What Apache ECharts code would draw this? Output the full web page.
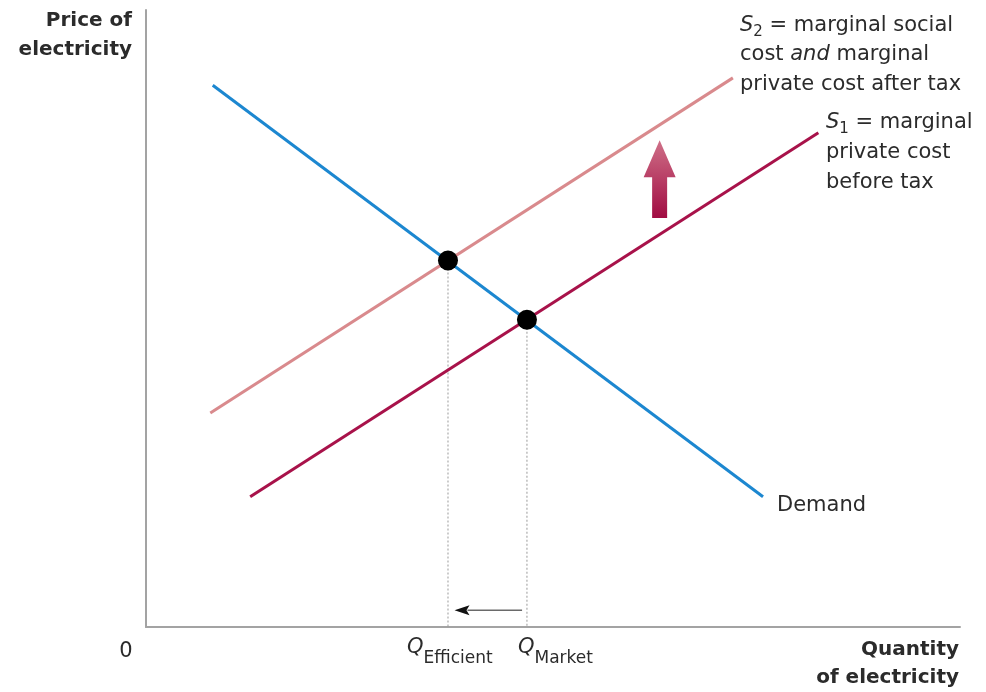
<!DOCTYPE html>
<html>
<head>
<meta charset="utf-8">
<script src="https://cdn.jsdelivr.net/npm/echarts@6/dist/echarts.min.js"></script>
<style>
	html, body { margin: 0; padding: 0; background: #fff; }
	#chart { width: 986px; height: 692px; }
</style>
</head>
<body>
<div id="chart"></div>
<script>
// 曲线端点 (x = quantity, y = price, both 0..100)
const demand = [[8.2, 87.8], [75.8, 21.1]]
const supply1 = [[12.8, 21.1], [82.6, 80.1]]
const supply2 = [[7.9, 34.7], [72.1, 89.0]]
// equilibria: efficient (S2 x D), market (S1 x D)
const equilibria = [[37.1, 59.4], [46.8, 49.8]]
// tax shift arrow: x, yFrom, yTo
const taxArrow = [[63.1, 66.3, 78.9]]
// quantity change arrow: xFrom, xTo, y
const qArrow = [[46.2, 37.9, 2.7]]

const FONT = '"DejaVu Sans", sans-serif'
const TXT = "#2b2b2b"

let chart = echarts.init(document.getElementById("chart"))

function dropLine(p) {
	return {
		type: "line",
		data: [p, [p[0], 0]],
		symbol: "none",
		silent: true,
		lineStyle: {color: "#9a9a9a", width: 1, type: [2, 2]},
		z: 1
	}
}

function curve(data, color) {
	return {
		type: "line",
		data: data,
		symbol: "none",
		silent: true,
		lineStyle: {color: color, width: 3},
		z: 2
	}
}

let subRich = function (mainSize, lh, subSize) {
	return {
		m: {fontSize: mainSize, fontFamily: FONT, lineHeight: lh, color: TXT, verticalAlign: "middle"},
		i: {fontSize: mainSize, fontFamily: FONT, fontStyle: "italic", lineHeight: lh, color: TXT, verticalAlign: "middle"},
		s: {fontSize: subSize, fontFamily: FONT, lineHeight: subSize, color: TXT, verticalAlign: "bottom"}
	}
}

function label(x, y, text, opts) {
	opts = opts || {}
	return {
		type: "text",
		x: x,
		y: y,
		silent: true,
		style: {
			text: text,
			font: (opts.bold ? "bold " : "") + (opts.size || 21) + "px " + FONT,
			fill: TXT,
			textAlign: opts.align || "left",
			textVerticalAlign: "middle",
			rich: opts.rich
		}
	}
}

chart.setOption({
	animation: false,
	grid: {left: 146, right: 26, top: 10, bottom: 65},
	xAxis: {
		type: "value", min: 0, max: 100,
		axisLine: {show: true, lineStyle: {color: "#a3a3a3", width: 2}},
		axisTick: {show: false}, axisLabel: {show: false}, splitLine: {show: false}
	},
	yAxis: {
		type: "value", min: 0, max: 100,
		axisLine: {show: true, lineStyle: {color: "#a3a3a3", width: 2}},
		axisTick: {show: false}, axisLabel: {show: false}, splitLine: {show: false}
	},
	series: [
		dropLine(equilibria[0]),
		dropLine(equilibria[1]),
		curve(supply2, "#d98a8d"),
		curve(supply1, "#a8124a"),
		curve(demand, "#1c87d0"),
		{
			type: "scatter",
			data: equilibria,
			symbolSize: 20,
			itemStyle: {color: "#000", opacity: 1},
			silent: true,
			z: 5
		},
		{
			type: "custom",
			data: taxArrow,
			silent: true,
			z: 4,
			renderItem: function (params, api) {
				let b = api.coord([api.value(0), api.value(1)])
				let t = api.coord([api.value(0), api.value(2)])
				let cx = b[0], sw = 7.5, hw = 16, headBase = t[1] + 37
				return {
					type: "polygon",
					shape: {
						points: [
							[cx - sw, b[1]], [cx - sw, headBase], [cx - hw, headBase], [cx, t[1]],
							[cx + hw, headBase], [cx + sw, headBase], [cx + sw, b[1]]
						]
					},
					style: {
						fill: new echarts.graphic.LinearGradient(0, 0, 0, 1, [
							{offset: 0, color: "#cf7088"},
							{offset: 1, color: "#a10c42"}
						])
					}
				}
			}
		},
		{
			type: "custom",
			data: qArrow,
			silent: true,
			z: 4,
			renderItem: function (params, api) {
				let a = api.coord([api.value(0), api.value(2)])
				let b = api.coord([api.value(1), api.value(2)])
				let hl = 15
				return {
					type: "group",
					children: [
						{
							type: "line",
							shape: {x1: a[0], y1: a[1], x2: b[0] + hl - 2, y2: b[1]},
							style: {stroke: "#6a6a6a", lineWidth: 1.5}
						},
						{
							type: "polygon",
							shape: {points: [[b[0], b[1]], [b[0] + hl, b[1] - 5], [b[0] + hl - 3, b[1]], [b[0] + hl, b[1] + 5]]},
							style: {fill: "#111"}
						}
					]
				}
			}
		}
	],
	graphic: [
		label(132, 21, "Price of", {bold: true, size: 20, align: "right"}),
		label(132, 50, "electricity", {bold: true, size: 20, align: "right"}),
		label(126, 652, "0", {align: "center"}),
		label(959, 650, "Quantity", {bold: true, size: 20, align: "right"}),
		label(959, 678, "of electricity", {bold: true, size: 20, align: "right"}),
		label(740, 26, "{i|S}{s|2}{m| = marginal social}", {rich: subRich(21, 28, 15)}),
		label(740, 55, "{m|cost }{i|and}{m| marginal}", {rich: subRich(21, 28, 15)}),
		label(740, 85, "private cost after tax"),
		label(826, 123, "{i|S}{s|1}{m| = marginal}", {rich: subRich(21, 28, 15)}),
		label(826, 153, "private cost"),
		label(826, 183, "before tax"),
		label(777, 506, "Demand"),
		label(407, 648, "{i|Q}{s|Efficient}", {rich: subRich(21, 38, 17)}),
		label(518, 648, "{i|Q}{s|Market}", {rich: subRich(21, 38, 17)})
	]
})
</script>
</body>
</html>
